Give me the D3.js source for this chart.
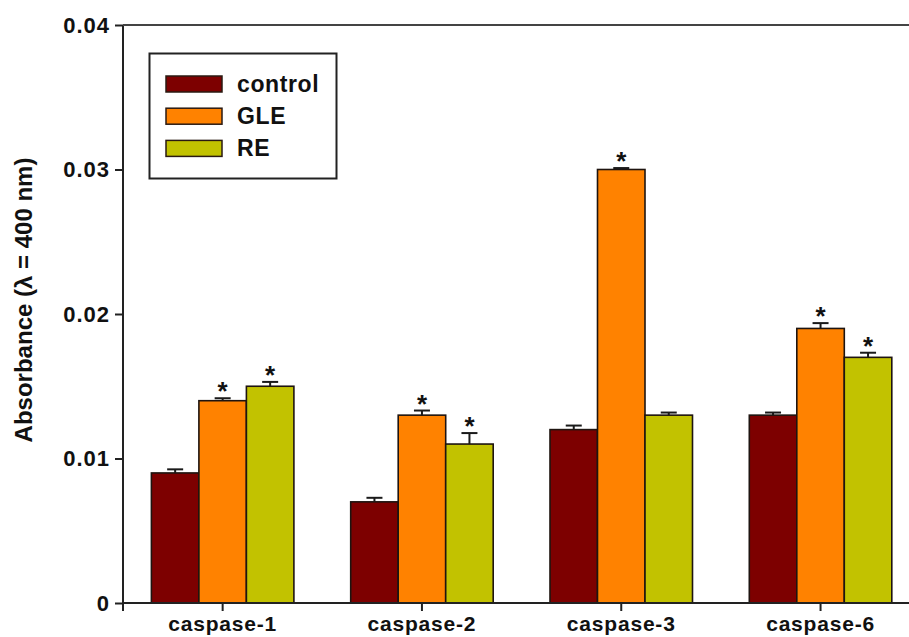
<!DOCTYPE html>
<html>
<head>
<meta charset="utf-8">
<script src="https://cdn.jsdelivr.net/npm/d3@7"></script>
<style>
  body { margin: 0; background: #fff; }
  svg { display: block; font-family: "Liberation Sans", Arial, sans-serif; font-weight: bold; }
</style>
</head>
<body>
<div id="wrapper"></div>
<script>
// chart values
const categories = ["caspase-1", "caspase-2", "caspase-3", "caspase-6"]
const series = ["control", "GLE", "RE"]
const colors = ["#7d0000", "#ff8200", "#c2c200"]
const values = {
  control: [0.009, 0.007, 0.012, 0.013],
  GLE:     [0.014, 0.013, 0.030, 0.019],
  RE:      [0.015, 0.011, 0.013, 0.017],
}
const errors = {
  control: [0.00025, 0.00028, 0.00028, 0.00018],
  GLE:     [0.00017, 0.00032, 0.0001, 0.00037],
  RE:      [0.0003, 0.00076, 0.00018, 0.00032],
}
const significant = {
  control: [false, false, false, false],
  GLE:     [true, true, true, true],
  RE:      [true, true, false, true],
}
const yTicks = [0, 0.01, 0.02, 0.03, 0.04]
const yTickLabels = ["0", "0.01", "0.02", "0.03", "0.04"]

function drawBarChart() {
  // 1. dimensions
  let dimensions = {
    width: 909,
    height: 637,
    left: 123,
    top: 25,
    bottom: 603,
    step: 199.3,
  }

  const wrapper = d3.select("#wrapper")
    .append("svg")
      .attr("width", dimensions.width)
      .attr("height", dimensions.height)

  // 2. scales
  const yScale = d3.scaleLinear()
    .domain([0, 0.04])
    .range([dimensions.bottom, dimensions.top])

  const xScale = d3.scaleBand()
    .domain(categories)
    .range([dimensions.left, dimensions.left + dimensions.step * categories.length])
    .paddingInner(0.285)
    .paddingOuter(0.1425)

  const subScale = d3.scaleBand()
    .domain(series)
    .range([0, xScale.bandwidth()])

  const rows = []
  categories.forEach((c, i) => {
    series.forEach((s, j) => {
      rows.push({ cat: c, ser: s, color: colors[j], v: values[s][i], e: errors[s][i], sig: significant[s][i] })
    })
  })

  // 3. bars
  const bars = wrapper.append("g")
  bars.selectAll("rect")
    .data(rows)
    .join("rect")
      .attr("x", d => xScale(d.cat) + subScale(d.ser))
      .attr("y", d => yScale(d.v))
      .attr("width", subScale.bandwidth())
      .attr("height", d => yScale(0) - yScale(d.v))
      .attr("fill", d => d.color)
      .attr("stroke", "#1e1410")
      .attr("stroke-width", 1.6)

  // error bars (upper only)
  const err = wrapper.append("g")
    .attr("stroke", "#1a1a1a")
    .attr("stroke-width", 2)
  const cx = d => xScale(d.cat) + subScale(d.ser) + subScale.bandwidth() / 2
  err.selectAll("line.v")
    .data(rows)
    .join("line")
      .attr("class", "v")
      .attr("x1", cx).attr("x2", cx)
      .attr("y1", d => yScale(d.v)).attr("y2", d => yScale(d.v + d.e))
  err.selectAll("line.c")
    .data(rows)
    .join("line")
      .attr("class", "c")
      .attr("x1", d => cx(d) - 8).attr("x2", d => cx(d) + 8)
      .attr("y1", d => yScale(d.v + d.e)).attr("y2", d => yScale(d.v + d.e))

  // asterisks
  wrapper.append("g").selectAll("text")
    .data(rows.filter(d => d.sig))
    .join("text")
      .attr("x", cx)
      .attr("y", d => yScale(d.v + d.e) + 2)
      .attr("text-anchor", "middle")
      .attr("font-size", 26)
      .attr("fill", "#111")
      .text("*")

  // 4. axes
  const yAxis = d3.axisLeft(yScale)
    .tickValues(yTicks)
    .tickFormat((d, i) => yTickLabels[i])
    .tickSize(8)
    .tickPadding(5)
  const yAxisGroup = wrapper.append("g")
    .attr("transform", `translate(${dimensions.left},0)`)
    .call(yAxis)
  yAxisGroup.select(".domain").remove()
  yAxisGroup.selectAll("line").attr("stroke", "#222").attr("stroke-width", 2)
  yAxisGroup.selectAll("text")
    .attr("font-size", 22)
    .attr("font-family", "Liberation Sans, Arial, sans-serif")
    .attr("font-weight", "bold")
    .attr("letter-spacing", 1)
    .attr("fill", "#111")

  const xAxis = d3.axisBottom(xScale)
    .tickSize(8)
    .tickPadding(5)
  const xAxisGroup = wrapper.append("g")
    .attr("transform", `translate(0,${dimensions.bottom})`)
    .call(xAxis)
  xAxisGroup.select(".domain").remove()
  xAxisGroup.selectAll("line").attr("stroke", "#222").attr("stroke-width", 2)
  xAxisGroup.selectAll("text")
    .attr("font-size", 21)
    .attr("font-family", "Liberation Sans, Arial, sans-serif")
    .attr("font-weight", "bold")
    .attr("letter-spacing", 0.8)
    .attr("fill", "#111")

  // frame lines: left, top, bottom
  const frame = wrapper.append("g").attr("stroke", "#222").attr("stroke-width", 2)
  frame.append("line")
    .attr("x1", dimensions.left).attr("x2", dimensions.left)
    .attr("y1", dimensions.top).attr("y2", dimensions.bottom + 8)
  frame.append("line")
    .attr("x1", dimensions.left).attr("x2", xScale.range()[1])
    .attr("y1", dimensions.top).attr("y2", dimensions.top)
    .attr("stroke", "#444")
  frame.append("line")
    .attr("x1", dimensions.left).attr("x2", xScale.range()[1])
    .attr("y1", dimensions.bottom).attr("y2", dimensions.bottom)

  // y axis title
  wrapper.append("text")
    .attr("transform", "translate(32,300) rotate(-90)")
    .attr("text-anchor", "middle")
    .attr("font-size", 24)
    .attr("fill", "#111")
    .text("Absorbance (λ = 400 nm)")

  // 5. legend
  const legend = wrapper.append("g")
  legend.append("rect")
    .attr("x", 149.5).attr("y", 53.5)
    .attr("width", 187).attr("height", 125)
    .attr("fill", "#fff")
    .attr("stroke", "#222")
    .attr("stroke-width", 2)
  const items = legend.selectAll("g.item")
    .data(series)
    .join("g")
      .attr("class", "item")
      .attr("transform", (d, i) => `translate(166,${84 + i * 32.2})`)
  items.append("rect")
    .attr("x", 0).attr("y", -8)
    .attr("width", 56).attr("height", 16)
    .attr("fill", (d, i) => colors[i])
    .attr("stroke", "#2a1a12")
    .attr("stroke-width", 1.5)
  items.append("text")
    .attr("x", 71).attr("y", 8)
    .attr("font-size", 23)
    .attr("letter-spacing", 0.6)
    .attr("fill", "#111")
    .text(d => d)
}

drawBarChart()
</script>
</body>
</html>
